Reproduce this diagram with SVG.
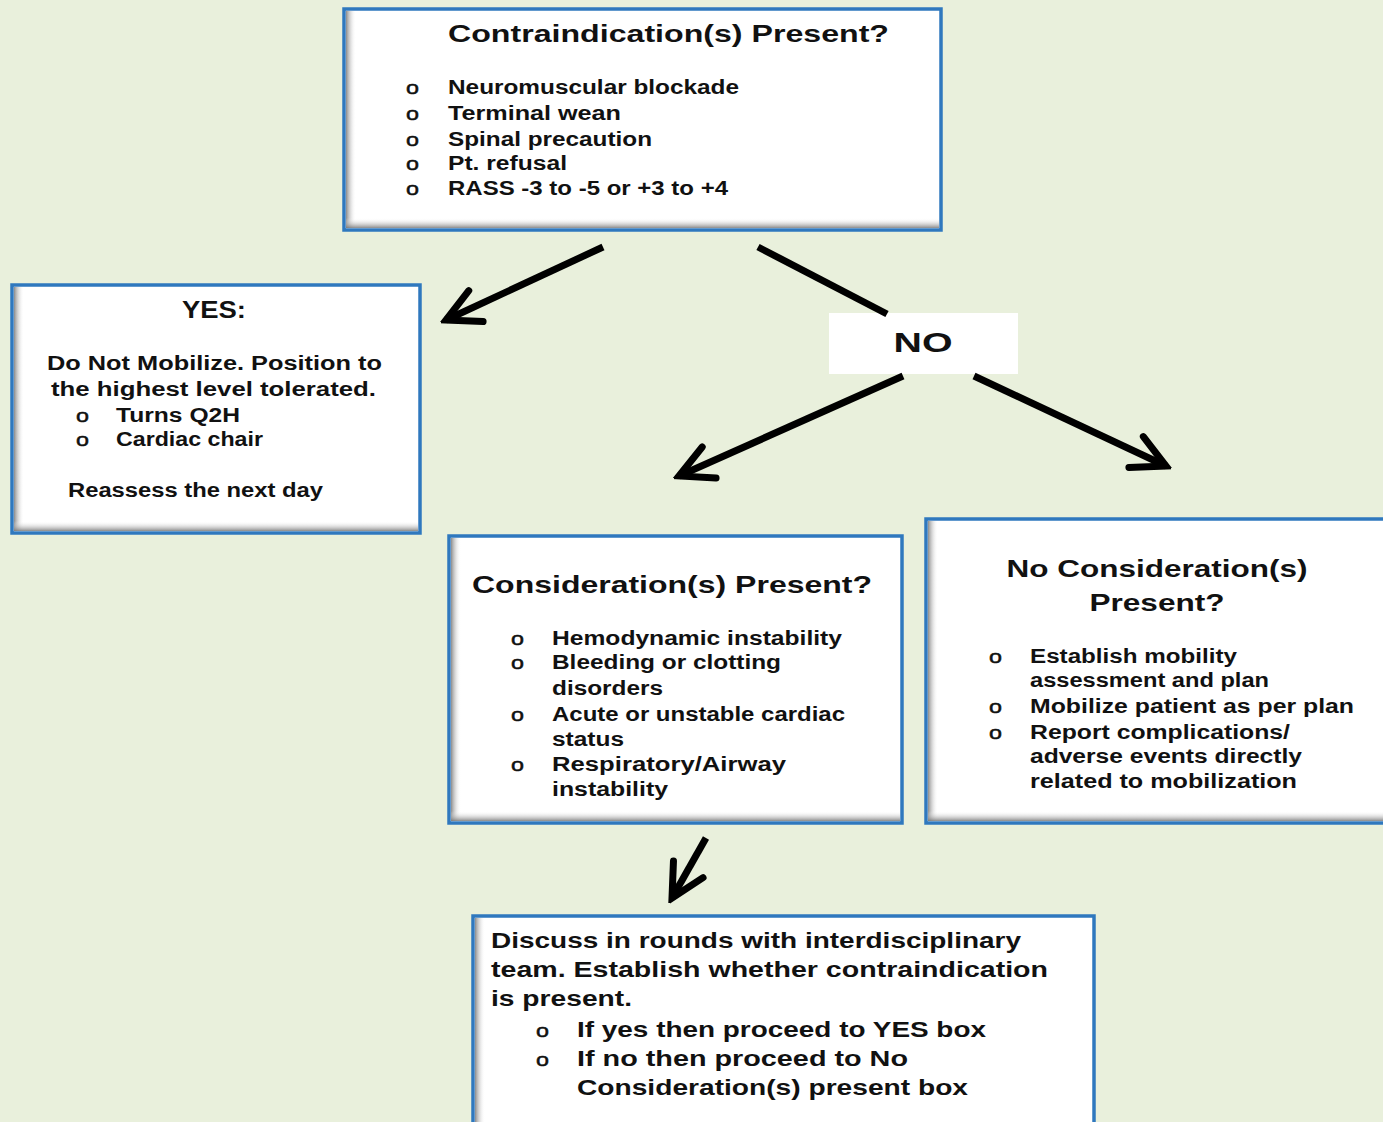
<svg xmlns="http://www.w3.org/2000/svg" width="1383" height="1122" viewBox="0 0 1383 1122">
<style>
.bg{fill:#E9F0DC}
.box{fill:#FFFFFF;stroke:#2F78BE;stroke-width:3.5}
.t{font-family:"Liberation Sans",Arial,sans-serif;font-weight:bold;fill:#111}
.title{font-size:24px}
.item{font-size:20px}
.big{font-size:22px}
.bul{font-family:"Liberation Sans",Arial,sans-serif;font-size:19px;font-weight:normal;fill:#111;stroke:#111;stroke-width:0.5}
.conn{stroke:#000;stroke-width:7;fill:none;stroke-linecap:butt}
</style>
<defs>
<linearGradient id="shL" x1="0" y1="0" x2="1" y2="0"><stop offset="0" stop-color="#777" stop-opacity="0.85"/><stop offset="1" stop-color="#fff" stop-opacity="0"/></linearGradient>
<linearGradient id="shB" x1="0" y1="1" x2="0" y2="0"><stop offset="0" stop-color="#777" stop-opacity="0.85"/><stop offset="1" stop-color="#fff" stop-opacity="0"/></linearGradient>
<marker id="arr" markerUnits="userSpaceOnUse" viewBox="-40 -24 46 48" refX="0" refY="0" markerWidth="46" markerHeight="48" orient="auto">
<path d="M-33,-17 L0,0 L-33,17" fill="none" stroke="#000" stroke-width="7" stroke-linejoin="miter" stroke-linecap="round"/>
</marker>
</defs>
<rect class="bg" x="0" y="0" width="1383" height="1122"/>

<g id="contraindication">
<rect class="box" x="344" y="9" width="597" height="221"/>
<rect x="346" y="11" width="10" height="217" fill="url(#shL)"/>
<rect x="346" y="218" width="593" height="10" fill="url(#shB)"/>
<text class="t title" x="448" y="42" textLength="441" lengthAdjust="spacingAndGlyphs">Contraindication(s)  Present?</text>
<text class="bul" x="406" y="94" textLength="13" lengthAdjust="spacingAndGlyphs">o</text><text class="t item" x="448" y="94" textLength="291" lengthAdjust="spacingAndGlyphs">Neuromuscular blockade</text>
<text class="bul" x="406" y="120" textLength="13" lengthAdjust="spacingAndGlyphs">o</text><text class="t item" x="448" y="120" textLength="173" lengthAdjust="spacingAndGlyphs">Terminal wean</text>
<text class="bul" x="406" y="146" textLength="13" lengthAdjust="spacingAndGlyphs">o</text><text class="t item" x="448" y="146" textLength="204" lengthAdjust="spacingAndGlyphs">Spinal precaution</text>
<text class="bul" x="406" y="170" textLength="13" lengthAdjust="spacingAndGlyphs">o</text><text class="t item" x="448" y="170" textLength="119" lengthAdjust="spacingAndGlyphs">Pt. refusal</text>
<text class="bul" x="406" y="195" textLength="13" lengthAdjust="spacingAndGlyphs">o</text><text class="t item" x="448" y="195" textLength="280" lengthAdjust="spacingAndGlyphs">RASS -3 to -5 or +3 to +4</text>
</g>

<g id="yes">
<rect class="box" x="12" y="285" width="408" height="248"/>
<rect x="14" y="287" width="10" height="244" fill="url(#shL)"/>
<rect x="14" y="521" width="404" height="10" fill="url(#shB)"/>
<text class="t" x="214" y="318" font-size="24" text-anchor="middle" textLength="64" lengthAdjust="spacingAndGlyphs">YES:</text>
<text class="t item" x="47" y="370" textLength="335" lengthAdjust="spacingAndGlyphs">Do Not Mobilize. Position to</text>
<text class="t item" x="51" y="396" textLength="325" lengthAdjust="spacingAndGlyphs">the highest level tolerated.</text>
<text class="bul" x="76" y="422" textLength="13" lengthAdjust="spacingAndGlyphs">o</text><text class="t item" x="116" y="422" textLength="124" lengthAdjust="spacingAndGlyphs">Turns Q2H</text>
<text class="bul" x="76" y="446" textLength="13" lengthAdjust="spacingAndGlyphs">o</text><text class="t item" x="116" y="446" textLength="147" lengthAdjust="spacingAndGlyphs">Cardiac chair</text>
<text class="t item" x="68" y="497" textLength="255" lengthAdjust="spacingAndGlyphs">Reassess the next day</text>
</g>

<g id="no">
<rect x="829" y="313" width="189" height="61" fill="#FFFFFF"/>
<text class="t" x="923" y="352" text-anchor="middle" font-size="28" textLength="59" lengthAdjust="spacingAndGlyphs">NO</text>
</g>

<g id="consideration">
<rect class="box" x="449" y="536" width="453" height="287"/>
<rect x="451" y="538" width="10" height="283" fill="url(#shL)"/>
<rect x="451" y="811" width="449" height="10" fill="url(#shB)"/>
<text class="t title" x="472" y="593" textLength="400" lengthAdjust="spacingAndGlyphs">Consideration(s)  Present?</text>
<text class="bul" x="511" y="645" textLength="13" lengthAdjust="spacingAndGlyphs">o</text><text class="t item" x="552" y="645" textLength="290" lengthAdjust="spacingAndGlyphs">Hemodynamic instability</text>
<text class="bul" x="511" y="669" textLength="13" lengthAdjust="spacingAndGlyphs">o</text><text class="t item" x="552" y="669" textLength="229" lengthAdjust="spacingAndGlyphs">Bleeding or clotting</text>
<text class="t item" x="552" y="695" textLength="111" lengthAdjust="spacingAndGlyphs">disorders</text>
<text class="bul" x="511" y="721" textLength="13" lengthAdjust="spacingAndGlyphs">o</text><text class="t item" x="552" y="721" textLength="293" lengthAdjust="spacingAndGlyphs">Acute or unstable cardiac</text>
<text class="t item" x="552" y="746" textLength="72" lengthAdjust="spacingAndGlyphs">status</text>
<text class="bul" x="511" y="771" textLength="13" lengthAdjust="spacingAndGlyphs">o</text><text class="t item" x="552" y="771" textLength="234" lengthAdjust="spacingAndGlyphs">Respiratory/Airway</text>
<text class="t item" x="552" y="796" textLength="116" lengthAdjust="spacingAndGlyphs">instability</text>
</g>

<g id="no-consideration">
<rect class="box" x="926" y="519" width="470" height="304"/>
<rect x="928" y="521" width="10" height="300" fill="url(#shL)"/>
<rect x="928" y="811" width="460" height="10" fill="url(#shB)"/>
<text class="t title" x="1157" y="577" text-anchor="middle" textLength="301" lengthAdjust="spacingAndGlyphs">No Consideration(s)</text>
<text class="t title" x="1157" y="611" text-anchor="middle" textLength="135" lengthAdjust="spacingAndGlyphs">Present?</text>
<text class="bul" x="989" y="663" textLength="13" lengthAdjust="spacingAndGlyphs">o</text><text class="t item" x="1030" y="663" textLength="207" lengthAdjust="spacingAndGlyphs">Establish mobility</text>
<text class="t item" x="1030" y="687" textLength="239" lengthAdjust="spacingAndGlyphs">assessment and plan</text>
<text class="bul" x="989" y="713" textLength="13" lengthAdjust="spacingAndGlyphs">o</text><text class="t item" x="1030" y="713" textLength="324" lengthAdjust="spacingAndGlyphs">Mobilize patient as per plan</text>
<text class="bul" x="989" y="739" textLength="13" lengthAdjust="spacingAndGlyphs">o</text><text class="t item" x="1030" y="739" textLength="260" lengthAdjust="spacingAndGlyphs">Report complications/</text>
<text class="t item" x="1030" y="763" textLength="272" lengthAdjust="spacingAndGlyphs">adverse events directly</text>
<text class="t item" x="1030" y="788" textLength="267" lengthAdjust="spacingAndGlyphs">related to mobilization</text>
</g>

<g id="discuss">
<rect class="box" x="473" y="916" width="621" height="220"/>
<rect x="475" y="918" width="10" height="216" fill="url(#shL)"/>
<text class="t big" x="491" y="948" textLength="530" lengthAdjust="spacingAndGlyphs">Discuss in rounds with interdisciplinary</text>
<text class="t big" x="491" y="977" textLength="557" lengthAdjust="spacingAndGlyphs">team. Establish whether contraindication</text>
<text class="t big" x="491" y="1006" textLength="141" lengthAdjust="spacingAndGlyphs">is present.</text>
<text class="bul" x="536" y="1037" textLength="13" lengthAdjust="spacingAndGlyphs">o</text><text class="t big" x="577" y="1037" textLength="409" lengthAdjust="spacingAndGlyphs">If yes then proceed to YES box</text>
<text class="bul" x="536" y="1066" textLength="13" lengthAdjust="spacingAndGlyphs">o</text><text class="t big" x="577" y="1066" textLength="331" lengthAdjust="spacingAndGlyphs">If no then proceed to No</text>
<text class="t big" x="577" y="1095" textLength="391" lengthAdjust="spacingAndGlyphs">Consideration(s) present box</text>
</g>

<g id="connectors">
<line class="conn" x1="603" y1="247" x2="446" y2="320" marker-end="url(#arr)"/>
<line class="conn" x1="758" y1="247" x2="887" y2="314"/>
<line class="conn" x1="903" y1="376" x2="679" y2="476" marker-end="url(#arr)"/>
<line class="conn" x1="974" y1="376" x2="1166" y2="466" marker-end="url(#arr)"/>
<line class="conn" x1="706" y1="838" x2="672" y2="898" marker-end="url(#arr)"/>
</g>
</svg>
